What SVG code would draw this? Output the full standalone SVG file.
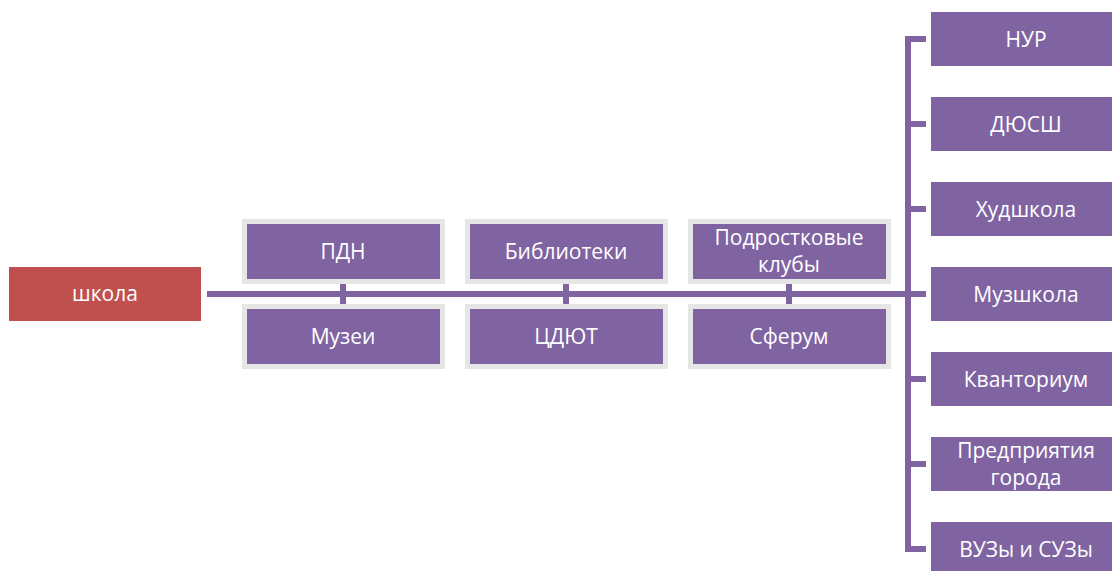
<svg xmlns="http://www.w3.org/2000/svg" width="1112" height="571" viewBox="0 0 1112 571">
<style>
.mid{fill:#8064A2;stroke:#E6E6E6;stroke-width:5}
.rt{fill:#8064A2}
.red{fill:#C0504D}
.ln{stroke:#8064A2;stroke-width:6;fill:none}
text{font-family:"Open Sans","Noto Sans","Liberation Sans",sans-serif;font-size:21px;fill:#FFFFFF;text-anchor:middle}
</style>
<rect width="1112" height="571" fill="#FFFFFF"/>
<g id="connectors">
<line class="ln" x1="207" y1="294" x2="926" y2="294"/>
<line class="ln" x1="343" y1="284" x2="343" y2="305"/>
<line class="ln" x1="566" y1="284" x2="566" y2="305"/>
<line class="ln" x1="789" y1="284" x2="789" y2="305"/>
<path class="ln" d="M926 39 H908 V549 H926"/>
<line class="ln" x1="908" y1="124" x2="926" y2="124"/>
<line class="ln" x1="908" y1="209" x2="926" y2="209"/>
<line class="ln" x1="908" y1="379" x2="926" y2="379"/>
<line class="ln" x1="908" y1="464" x2="926" y2="464"/>
</g>
<g id="shkola"><rect class="red" x="9" y="267" width="192" height="54"/><text x="105" y="301">школа</text></g>
<g id="pdn"><rect class="mid" x="244.5" y="221.5" width="198" height="60"/><text x="343" y="259">ПДН</text></g>
<g id="muzei"><rect class="mid" x="244.5" y="306.5" width="198" height="60"/><text x="343" y="344">Музеи</text></g>
<g id="biblioteki"><rect class="mid" x="467.5" y="221.5" width="198" height="60"/><text x="566" y="259">Библиотеки</text></g>
<g id="cdyut"><rect class="mid" x="467.5" y="306.5" width="198" height="60"/><text x="566" y="344">ЦДЮТ</text></g>
<g id="kluby"><rect class="mid" x="690.5" y="221.5" width="198" height="60"/><text x="789" y="245">Подростковые</text><text x="789" y="272">клубы</text></g>
<g id="sferum"><rect class="mid" x="690.5" y="306.5" width="198" height="60"/><text x="789" y="344">Сферум</text></g>
<g id="nur"><rect class="rt" x="931" y="12" width="181" height="54"/><text x="1026" y="47">НУР</text></g>
<g id="dyussh"><rect class="rt" x="931" y="97" width="181" height="54"/><text x="1026" y="132">ДЮСШ</text></g>
<g id="hudshkola"><rect class="rt" x="931" y="182" width="181" height="54"/><text x="1026" y="217">Худшкола</text></g>
<g id="muzshkola"><rect class="rt" x="931" y="267" width="181" height="54"/><text x="1026" y="302">Музшкола</text></g>
<g id="kvantorium"><rect class="rt" x="931" y="352" width="181" height="54"/><text x="1026" y="387">Кванториум</text></g>
<g id="predpriyatiya"><rect class="rt" x="931" y="437" width="181" height="54"/><text x="1026" y="458">Предприятия</text><text x="1026" y="485">города</text></g>
<g id="vuzy"><rect class="rt" x="931" y="522" width="181" height="54"/><text x="1026" y="557">ВУЗы и СУЗы</text></g>
</svg>
